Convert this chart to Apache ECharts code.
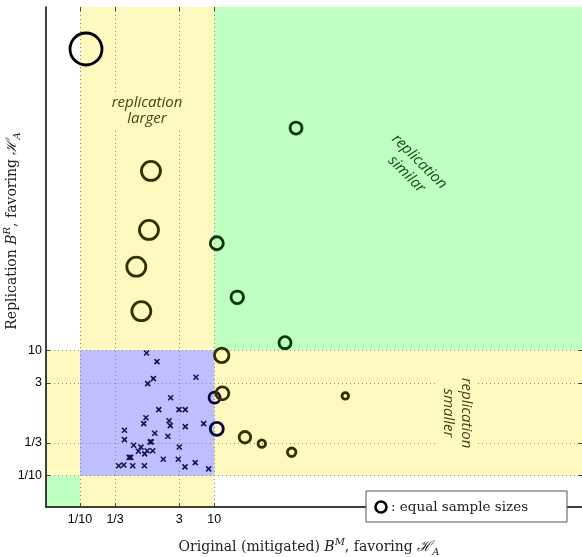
<!DOCTYPE html>
<html>
<head>
<meta charset="utf-8">
<script src="https://cdn.jsdelivr.net/npm/echarts@6/dist/echarts.min.js"></script>
<style>html,body{margin:0;padding:0;background:#fff}#c{width:582px;height:557px}</style>
</head>
<body>
<div id="c"></div>
<script>
// ---- data ----
const xTickValues = [0.1, 1/3, 3, 10];
const xTickLabels = ['1/10', '1/3', '3', '10'];
const yTickValues = [0.1, 1/3, 3, 10];
const yTickLabels = ['1/10', '1/3', '3', '10'];

// studies with replication (circles): original B^M, replication B^R, marker size, colour group
const circleX = [0.123, 165, 1.14, 1.065, 10.9, 0.69, 22.0, 0.82, 113, 12.9, 10.1, 13.2, 10.9, 28.6, 51, 893, 142];
const circleY = [638000, 35000, 7240, 830, 509, 215, 70, 42, 13.2, 8.3, 1.75, 2.06, 0.556, 0.41, 0.324, 1.87, 0.236];
const circleSize = [32, 12, 19, 19, 13, 19, 12.5, 19, 12, 14.5, 11, 13, 13, 11.5, 7.5, 6.5, 8.5];
const circleGroup = ['black','green','olive','olive','green','olive','green','olive','green','olive','navy','olive','navy','olive','olive','olive','olive'];

// other studies (crosses)
const crossX = [0.98, 1.40, 1.24, 1.02, 5.34, 2.24, 1.49, 2.98, 3.70, 0.96, 2.12, 0.89, 2.21, 3.70, 6.95, 0.46, 1.30, 2.04, 0.46, 1.11, 1.15, 0.63, 3.01, 0.81, 1.00, 1.21, 0.74, 0.92, 0.54, 0.57, 1.74, 2.91, 5.21, 3.66, 0.377, 0.45, 0.61, 0.91, 8.25];
const crossY = [9.06, 6.58, 3.52, 2.93, 3.71, 1.75, 1.13, 1.13, 1.13, 0.84, 0.75, 0.675, 0.627, 0.605, 0.675, 0.53, 0.475, 0.425, 0.375, 0.345, 0.345, 0.305, 0.287, 0.285, 0.25, 0.25, 0.245, 0.222, 0.196, 0.196, 0.183, 0.183, 0.161, 0.138, 0.144, 0.148, 0.144, 0.144, 0.128];

// ---- styling ----
const groupColor = {black:'#000000', green:'#063806', olive:'#333000', navy:'#06063f'};
const YELLOW = '#fff9c0', GREEN = '#bfffbf', BLUE = '#bfbfff';
const XMIN = Math.pow(10, -1.506), XMAX = Math.pow(10, 6.476);
const YMIN = Math.pow(10, -1.5), YMAX = Math.pow(10, 6.475);

function labelFor(values, labels) {
  return function (v) {
    let best = 0, bd = Infinity;
    values.forEach((t, i) => { const d = Math.abs(Math.log10(t) - Math.log10(v)); if (d < bd) { bd = d; best = i; } });
    return labels[best];
  };
}

const chart = echarts.init(document.getElementById('c'), null, {renderer: 'canvas'});

const gridLine = {show: true, lineStyle: {color: '#8a8a8a', type: [1, 3], width: 1}};
const tickStyle = {color: '#444', width: 1};

const circleData = circleX.map((x, i) => ({
  value: [x, circleY[i]],
  symbolSize: circleSize[i],
  itemStyle: {color: 'rgba(0,0,0,0)', borderColor: groupColor[circleGroup[i]], borderWidth: 2.8, opacity: 1}
}));
const crossData = crossX.map((x, i) => [x, crossY[i]]);

const serifRich = {
  n: {font: '14px "DejaVu Serif"', fill: '#222', lineHeight: 20, verticalAlign: 'middle'},
  i: {font: 'italic 14px "DejaVu Serif"', fill: '#222', lineHeight: 20, verticalAlign: 'middle'},
  h: {font: 'italic 14px "DejaVu Serif"', fill: '#222', lineHeight: 20, verticalAlign: 'middle'},
  sup: {font: 'italic 10px "DejaVu Serif"', fill: '#222', lineHeight: 20, verticalAlign: 'top'},
  sub: {font: 'italic 10px "DejaVu Serif"', fill: '#222', lineHeight: 20, verticalAlign: 'bottom'}
};

const option = {
  animation: false,
  grid: {left: 46, right: 0, top: 7, bottom: 50, containLabel: false},
  xAxis: [
    {
      type: 'log', logBase: 10, min: XMIN, max: XMAX, z: 3,
      axisLine: {show: true, lineStyle: {color: '#000', width: 1.5}},
      axisTick: {show: true, inside: true, length: 4, customValues: xTickValues, lineStyle: tickStyle},
      axisLabel: {show: true, customValues: xTickValues, formatter: labelFor(xTickValues, xTickLabels),
        fontFamily: 'Liberation Sans', fontSize: 12.5, color: '#000', margin: 6},
      splitLine: gridLine
    },
    {
      type: 'log', logBase: 10, min: XMIN, max: XMAX, position: 'top', z: 3,
      axisLine: {show: false},
      axisTick: {show: true, inside: true, length: 4, customValues: xTickValues, lineStyle: tickStyle},
      axisLabel: {show: false},
      splitLine: {show: false}
    }
  ],
  yAxis: [
    {
      type: 'log', logBase: 10, min: YMIN, max: YMAX, z: 3,
      axisLine: {show: true, lineStyle: {color: '#000', width: 1.5}},
      axisTick: {show: true, inside: true, length: 4, customValues: yTickValues, lineStyle: tickStyle},
      axisLabel: {show: true, customValues: yTickValues, formatter: labelFor(yTickValues, yTickLabels),
        fontFamily: 'Liberation Sans', fontSize: 12.5, color: '#000', margin: 4},
      splitLine: gridLine
    },
    {
      type: 'log', logBase: 10, min: YMIN, max: YMAX, position: 'right', z: 3,
      axisLine: {show: false},
      axisTick: {show: true, inside: true, length: 4, customValues: yTickValues, lineStyle: tickStyle},
      axisLabel: {show: false},
      splitLine: {show: false}
    }
  ],
  series: [
    {
      type: 'scatter', z: -5, data: [], silent: true,
      markArea: {
        silent: true,
        data: [
          [{xAxis: 0.1, yAxis: YMIN, itemStyle: {color: YELLOW, opacity: 1}}, {xAxis: 10, yAxis: YMAX}],
          [{xAxis: XMIN, yAxis: 0.1, itemStyle: {color: YELLOW, opacity: 1}}, {xAxis: XMAX, yAxis: 10}],
          [{xAxis: 0.1, yAxis: 0.1, itemStyle: {color: BLUE, opacity: 1}}, {xAxis: 10, yAxis: 10}],
          [{xAxis: 10, yAxis: 10, itemStyle: {color: GREEN, opacity: 1}}, {xAxis: XMAX, yAxis: YMAX}],
          [{xAxis: XMIN, yAxis: YMIN, itemStyle: {color: GREEN, opacity: 1}}, {xAxis: 0.1, yAxis: 0.1}]
        ]
      }
    },
    {
      type: 'scatter', z: 4, data: crossData,
      symbol: 'path://M0 0L10 10M10 0L0 10', symbolSize: 5,
      itemStyle: {color: 'rgba(0,0,0,0)', borderColor: '#14144a', borderWidth: 1.6, opacity: 1}
    },
    {
      type: 'scatter', z: 5, data: circleData, symbol: 'circle',
      itemStyle: {opacity: 1}
    }
  ],
  graphic: [
    {type: 'text', z: 50, x: 147, y: 111, style: {
      text: 'replication\nlarger', fill: '#46431a', font: 'italic 15px "Open Sans"',
      align: 'center', verticalAlign: 'middle', lineHeight: 16,
      backgroundColor: YELLOW, padding: [2, 1]}},
    {type: 'text', z: 50, x: 413, y: 168, rotation: -Math.PI / 4, style: {
      text: 'replication\nsimilar', fill: '#145014', font: 'italic 15px "Open Sans"',
      align: 'center', verticalAlign: 'middle', lineHeight: 18}},
    {type: 'text', z: 50, x: 457, y: 413, rotation: -Math.PI / 2, style: {
      text: 'replication\nsmaller', fill: '#46431a', font: 'italic 15px "Open Sans"',
      align: 'center', verticalAlign: 'middle', lineHeight: 18,
      backgroundColor: YELLOW, padding: [1, 2]}},
    // x-axis title
    {type: 'text', z: 50, x: 309, y: 547, style: {
      text: '{n|Original (mitigated) }{i|B}{sup|M}{n|, favoring }{h|ℋ}{sub|A}',
      align: 'center', verticalAlign: 'middle', rich: serifRich}},
    // y-axis title
    {type: 'text', z: 50, x: 12, y: 231, rotation: Math.PI / 2, style: {
      text: '{n|Replication }{i|B}{sup|R}{n|, favoring }{h|ℋ}{sub|A}',
      align: 'center', verticalAlign: 'middle', rich: serifRich}},
    // legend box
    {type: 'rect', z: 60, shape: {x: 366, y: 491, width: 201, height: 31},
      style: {fill: '#fff', stroke: '#555', lineWidth: 1}},
    {type: 'circle', z: 61, shape: {cx: 381, cy: 507, r: 5.5},
      style: {fill: 'none', stroke: '#000', lineWidth: 2.6}},
    {type: 'text', z: 61, x: 391, y: 507, style: {
      text: ': equal sample sizes', font: '13.5px "DejaVu Serif"', fill: '#222',
      align: 'left', verticalAlign: 'middle'}}
  ]
};
chart.setOption(option);
</script>
</body>
</html>
